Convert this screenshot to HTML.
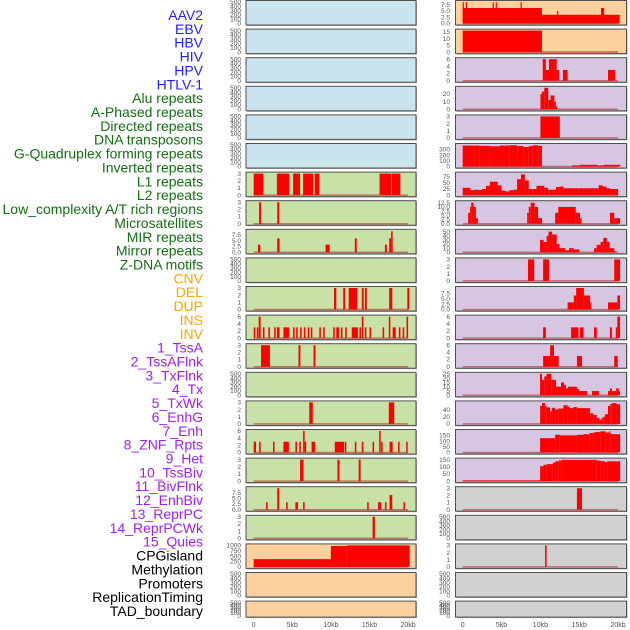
<!DOCTYPE html>
<html><head><meta charset="utf-8"><style>
html,body{margin:0;padding:0;background:#fff;}
svg{display:block;}
text{font-family:"Liberation Sans",sans-serif;}
</style></head><body>
<svg id="chart" width="630" height="630" viewBox="0 0 630 630" xmlns="http://www.w3.org/2000/svg"></svg>
<script>
// ---- track labels ----
const labelNames = ["AAV2","EBV","HBV","HIV","HPV","HTLV-1","Alu repeats","A-Phased repeats","Directed repeats","DNA transposons","G-Quadruplex forming repeats","Inverted repeats","L1 repeats","L2 repeats","Low_complexity A/T rich regions","Microsatellites","MIR repeats","Mirror repeats","Z-DNA motifs","CNV","DEL","DUP","INS","INV","1_TssA","2_TssAFlnk","3_TxFlnk","4_Tx","5_TxWk","6_EnhG","7_Enh","8_ZNF_Rpts","9_Het","10_TssBiv","11_BivFlnk","12_EnhBiv","13_ReprPC","14_ReprPCWk","15_Quies","CPGisland","Methylation","Promoters","ReplicationTiming","TAD_boundary"];
const labelGroups = [6,13,5,15,5];
const groupColors = ["#1f1fff","#137013","#ffa500","#a020f0","#000000"];
// ---- x axis ----
const xTickValues = [0,5,10,15,20];
const xTickLabels = ["0","5kb","10kb","15kb","20kb"];
// ---- y tick sets ----
const T500 = [0,100,200,300,400,500];
const T3 = [0,1,2,3];
const T6 = [0,2,4,6];
const T75 = [0,2.5,5,7.5];
const T15 = [0,5,10,15];
const T20 = [0,10,20];
const T300 = [0,100,200,300];
const T75b = [0,25,50,75];
const T125 = [0,2.5,5,7.5,10,12.5];
const T50 = [0,10,20,30,40,50];
const T25 = [0,5,10,15,20,25];
const T40 = [0,20,40];
const T150 = [0,50,100,150];
const T1000 = [0,250,500,750,1000];
// ---- left column series: [startKb, endKb, value] ----
const L6 = [[0,1.25,3],[3.0,4.6,3],[5.1,6.0,3],[6.4,7.7,3],[7.9,8.5,3],[16.3,17.8,3],[17.9,19.0,3]];
const L7 = [[0.7,0.95,3],[3.05,3.3,3]];
const L8 = [[0.55,0.85,3.3],[3.05,3.35,6],[9.3,9.85,3.3],[13.1,13.35,6],[17.0,17.25,3.3],[17.55,17.8,6],[17.8,18.0,9]];
const L10 = [[10.4,10.7,3],[11.6,11.85,3],[12.3,13.4,3],[14.0,14.25,3],[14.4,14.65,3],[17.55,17.95,3],[19.9,20.15,3]];
const L11 = [[0,0.2,3],[0.4,0.6,3],[0.65,0.9,6],[1.2,1.4,3],[1.9,2.1,3],[2.65,2.85,3],[3.0,3.35,3],[3.85,4.6,3],[5.1,5.3,3],[5.5,5.7,3],[6.0,6.2,3],[6.5,6.7,3],[7.0,7.2,3],[7.4,7.6,3],[8.5,8.7,3],[9.0,9.2,3],[10.3,10.5,3],[10.7,11.05,3],[11.3,11.5,3],[11.85,12.05,3],[12.7,13.5,3],[13.7,13.9,3],[14.0,14.2,6],[14.4,14.6,3],[15.0,15.2,3],[16.7,16.9,3],[17.5,17.7,6],[18.0,18.4,3],[18.8,19.0,3],[19.3,19.5,3],[19.8,20.0,6]];
const L12 = [[0.95,2.1,3],[5.8,6.05,3],[7.75,8.0,3]];
const L14 = [[7.2,7.65,3],[17.5,18.2,3]];
const L15 = [[0,0.3,3],[0.7,0.9,3],[2.5,2.7,3],[3.85,4.55,3],[5.4,5.6,3],[5.9,6.1,3],[6.4,6.6,6],[6.6,6.8,3],[7.5,7.95,3],[10.5,11.7,3],[11.8,12.0,3],[13.1,13.3,3],[14.0,14.2,3],[15.4,15.6,3],[16.25,16.45,6],[16.5,16.7,3],[17.6,18.0,3],[18.7,18.9,3],[19.75,19.95,3]];
const L16 = [[6.0,6.45,3],[10.85,11.1,3],[13.6,13.85,3]];
const L17 = [[1.6,1.8,3.3],[3.05,3.3,9.5],[4.2,4.4,3.3],[5.4,5.75,3.3],[6.4,6.6,3.3],[14.7,14.9,3.3],[16.1,16.5,3.3],[17.0,17.2,3.3],[17.6,17.95,6.5],[19.4,19.6,3.3]];
const L18 = [[15.4,15.7,3]];
const L19 = [[0,10,360],[10,12,970],[12,20.2,1000]];
// ---- right column series ----
const R0 = [[0,10.2,6.2],[10.2,20.2,3.5],[0,0.15,8.5],[0.4,0.55,8.5],[3.85,4.0,8.5],[4.25,4.4,8.5],[7.45,7.6,8.5],[12.15,12.3,5],[17.8,18.2,6.2]];
const R1 = [[0,10.2,16],[10.2,20,0.3]];
const R2 = [[10.3,10.7,6],[10.7,11.1,3],[11.1,12.1,6],[12.1,12.4,3],[12.9,13.5,3],[18.7,19.6,3]];
const R3 = [[10.0,10.2,20],[10.2,10.5,23],[10.5,11.0,28],[11.0,11.3,12],[11.3,11.8,18],[11.8,12.0,10],[12.0,12.1,4]];
const R4 = [[10.0,12.5,3]];
const R5 = [[0,2.2,370],[2.2,3.5,365],[3.5,4.8,358],[4.8,6.0,370],[6.0,7.0,375],[7.0,7.8,362],[7.8,8.5,345],[8.5,9.0,360],[9.0,9.7,375],[9.7,10.2,365],[14.1,15.1,20],[15.1,17.3,30],[17.3,18.2,20],[18.2,20.3,30]];
const R6bins = [30,30,20,22,21,25,38,55,55,40,18,15,20,22,65,85,60,25,25,38,38,30,22,22,33,35,28,28,28,28,28,28,28,28,28,40,35,28,25,25];
const R6binWidth = 0.5;
const R7 = [[0.7,0.95,6.5],[0.95,1.1,10],[1.1,1.4,12.5],[1.4,1.7,10],[1.7,1.95,3.3],[8.3,8.5,6.5],[8.5,8.75,10],[8.75,9.25,12.5],[9.25,9.7,10],[9.7,10.2,3.3],[11.9,12.3,6.5],[12.3,14.55,10],[14.55,15.1,6.5],[15.1,15.3,3.3],[18.95,19.5,6.5],[19.5,20.25,3.3]];
const R8 = [[9.95,10.4,30],[10.4,10.8,25],[10.8,11.05,40],[11.05,11.5,50],[11.5,12.1,43],[12.1,12.45,20],[12.45,13.2,10],[13.2,13.7,5],[13.7,14.25,10],[14.25,15.0,7],[16.9,17.25,10],[17.25,17.75,18],[17.75,18.1,25],[18.1,18.55,35],[18.55,18.9,25],[18.9,19.5,10],[19.5,19.6,3]];
const R9 = [[8.4,9.2,3],[10.35,11.1,3],[19.5,20.25,3]];
const R10 = [[13.5,14.3,3.3],[14.3,14.6,6.5],[14.6,15.6,10],[15.6,16.4,6.5],[16.4,16.5,3.3],[18.7,19.9,3.3],[19.9,20.25,6.5]];
const R11 = [[10.35,10.7,3],[13.95,14.9,3],[15.1,15.55,3],[16.9,17.25,3],[18.95,19.2,3],[19.7,19.9,3],[19.9,20.25,6]];
const R12 = [[10.35,11.25,3],[11.25,11.75,6],[11.75,12.35,3],[14.7,15.35,3],[19.5,19.95,3]];
const R13 = [[9.95,10.2,25],[10.2,10.5,18],[10.5,10.8,22],[10.8,11.4,25],[11.4,12.0,18],[12.0,12.65,10],[12.65,13.05,15],[13.05,13.3,12],[13.3,13.55,8],[13.55,14.7,10],[14.7,15.0,7],[15.0,16.0,5],[16.65,17.55,5],[18.7,18.95,5],[18.95,19.2,8],[19.2,19.75,5],[19.75,20.1,8],[20.1,20.25,5]];
const R14 = [[9.96,10.2,50],[10.2,10.6,58],[10.6,10.8,50],[10.8,11.25,46],[11.25,11.5,35],[11.5,11.9,45],[11.9,12.3,40],[12.3,12.96,43],[12.96,13.5,52],[13.5,13.8,48],[13.8,14.25,44],[14.25,14.7,47],[14.7,16.4,44],[16.4,16.8,30],[16.8,17.25,25],[17.25,17.6,17],[17.6,17.9,12],[17.9,18.1,17],[18.1,18.3,20],[18.3,18.7,27],[18.7,18.97,50],[18.97,19.2,55],[19.2,19.8,58],[19.8,20.26,55]];
const R15 = [[9.96,11.9,125],[11.9,12.5,155],[12.5,14.7,150],[14.7,15.55,155],[15.55,16.3,160],[16.3,16.8,170],[16.8,17.1,175],[17.1,17.7,180],[17.7,18.4,185],[18.4,18.85,175],[18.85,18.97,185],[18.97,19.2,165],[19.2,20.26,160]];
const R16 = [[0,9.96,5],[9.96,10.4,105],[10.4,10.8,115],[10.8,11.6,120],[11.6,11.9,130],[11.9,12.3,140],[12.3,12.75,145],[12.75,17.25,150],[17.25,17.75,145],[17.75,18.3,140],[18.3,18.6,135],[18.6,20.26,140]];
const R17 = [[14.7,15.35,3]];
const R19 = [[10.6,10.8,3]];

// ---- layout ----
const BG = {blue:"#c9e4ec",green:"#c8e1a6",orange:"#fed09d",purple:"#d6c6e2",gray:"#d1d1d1"};
const panels = [
 {c:0,r:0,bg:"blue",t:T500,m:500,s:null,n:"aav2"},
 {c:0,r:1,bg:"blue",t:T500,m:500,s:null,n:"hbv"},
 {c:0,r:2,bg:"blue",t:T500,m:500,s:null,n:"hpv"},
 {c:0,r:3,bg:"blue",t:T500,m:500,s:null,n:"alu"},
 {c:0,r:4,bg:"blue",t:T500,m:500,s:null,n:"directed"},
 {c:0,r:5,bg:"blue",t:T500,m:500,s:null,n:"g-quad"},
 {c:0,r:6,bg:"green",t:T3,m:3,s:L6,n:"l1"},
 {c:0,r:7,bg:"green",t:T3,m:3,s:L7,n:"low-complexity"},
 {c:0,r:8,bg:"green",t:T75,m:9.2,s:L8,n:"mir"},
 {c:0,r:9,bg:"green",t:T500,m:500,s:null,n:"z-dna"},
 {c:0,r:10,bg:"green",t:T3,m:3,s:L10,n:"del"},
 {c:0,r:11,bg:"green",t:T6,m:6,s:L11,n:"ins"},
 {c:0,r:12,bg:"green",t:T3,m:3,s:L12,n:"tssa"},
 {c:0,r:13,bg:"green",t:T500,m:500,s:null,n:"txflnk"},
 {c:0,r:14,bg:"green",t:T3,m:3,s:L14,n:"txwk"},
 {c:0,r:15,bg:"green",t:T6,m:6,s:L15,n:"enh"},
 {c:0,r:16,bg:"green",t:T3,m:3,s:L16,n:"het"},
 {c:0,r:17,bg:"green",t:T75,m:9.5,s:L17,n:"bivflnk"},
 {c:0,r:18,bg:"green",t:T3,m:3,s:L18,n:"reprpc"},
 {c:0,r:19,bg:"orange",t:T1000,m:1000,s:L19,n:"cpgisland"},
 {c:0,r:20,bg:"orange",t:T500,m:500,s:null,n:"promoters"},
 {c:0,r:21,bg:"orange",t:T500,m:500,s:null,n:"tad"},
 {c:1,r:0,bg:"orange",t:T75,m:8.6,s:R0,n:"ebv"},
 {c:1,r:1,bg:"orange",t:T15,m:16,s:R1,n:"hiv"},
 {c:1,r:2,bg:"purple",t:T6,m:6,s:R2,n:"htlv"},
 {c:1,r:3,bg:"purple",t:T20,m:28,s:R3,n:"a-phased"},
 {c:1,r:4,bg:"purple",t:T3,m:3,s:R4,n:"dna-transposons"},
 {c:1,r:5,bg:"purple",t:T300,m:380,s:R5,n:"inverted"},
 {c:1,r:6,bg:"purple",t:T75b,m:88,s:"bins",n:"l2"},
 {c:1,r:7,bg:"purple",t:T125,m:12.8,s:R7,n:"microsatellites"},
 {c:1,r:8,bg:"purple",t:T50,m:52,s:R8,n:"mirror"},
 {c:1,r:9,bg:"purple",t:T3,m:3,s:R9,n:"cnv"},
 {c:1,r:10,bg:"purple",t:T75,m:10,s:R10,n:"dup"},
 {c:1,r:11,bg:"purple",t:T6,m:6,s:R11,n:"inv"},
 {c:1,r:12,bg:"purple",t:T6,m:6,s:R12,n:"tssaflnk"},
 {c:1,r:13,bg:"purple",t:T25,m:25,s:R13,n:"tx"},
 {c:1,r:14,bg:"purple",t:T40,m:60,s:R14,n:"enhg"},
 {c:1,r:15,bg:"purple",t:T150,m:188,s:R15,n:"znf-rpts"},
 {c:1,r:16,bg:"purple",t:T150,m:152,s:R16,n:"tssbiv"},
 {c:1,r:17,bg:"gray",t:T3,m:3,s:R17,n:"enhbiv"},
 {c:1,r:18,bg:"gray",t:T500,m:500,s:null,n:"reprpcwk"},
 {c:1,r:19,bg:"gray",t:T3,m:3,s:R19,n:"methylation"},
 {c:1,r:20,bg:"gray",t:T500,m:500,s:null,n:"replication-timing"},
 {c:1,r:21,bg:"gray",t:T500,m:500,s:null,n:"tad-right"}
];

const NS="http://www.w3.org/2000/svg";
const svg=document.getElementById("chart");
function mk(tag,attrs,parent){const e=document.createElementNS(NS,tag);for(const k in attrs)e.setAttribute(k,attrs[k]);(parent||svg).appendChild(e);return e;}
const COLX=[{x0:246,x1:416,z:253.7,k:7.72,tx:241},{x0:455.5,x1:626.5,z:462.7,k:7.77,tx:450}];
function xScale(c,kb){return COLX[c].z+kb*COLX[c].k;}
function rowTop(r){return 0.5+28.6*r;}
function rowH(r){return r===21?16:24.5;}
function yScale(r,m,v){const t=rowTop(r),h=rowH(r);return t+1.5+(1-v/m)*(h-3);}

let li=0;
labelGroups.forEach((cnt,g)=>{for(let j=0;j<cnt;j++){
  const t=mk("text",{x:203,y:15+13.86*li+5,"text-anchor":"end","font-size":"14",fill:groupColors[g]});
  
  
  t.textContent=labelNames[li];li++;}});

panels.forEach(p=>{
  const C=COLX[p.c],top=rowTop(p.r),h=rowH(p.r);
  const g=mk("g",{});
  
  
  mk("rect",{x:C.x0+1,y:top+1,width:C.x1-C.x0,height:h,fill:"#a8a8a8"},g);
  const bg=mk("rect",{x:C.x0,y:top,width:C.x1-C.x0,height:h,fill:BG[p.bg],stroke:"#505050","stroke-width":"1"},g);
  
  
  const dec=p.t.some(v=>v%1!==0);
  p.t.forEach(v=>{
    const tt=mk("text",{x:C.tx,y:yScale(p.r,p.m,v)+2.2,"text-anchor":"end","font-size":"6.5",fill:"#555"},g);
    
    
    tt.textContent=dec?v.toFixed(1):String(v);
  });
  if(p.s){
    const base=mk("line",{x1:xScale(p.c,0),x2:xScale(p.c,20),y1:top+h-1.5,y2:top+h-1.5,stroke:"#b02020","stroke-opacity":"0.55","stroke-width":"1.5"},g);
    
    
    let segs=p.s;
    if(p.s==="bins"){segs=R6bins.map((v,i)=>[i*R6binWidth,(i+1)*R6binWidth,v]);}
    segs.forEach(s=>{
      const x0=xScale(p.c,s[0]),x1=xScale(p.c,s[1]);
      const y=yScale(p.r,p.m,s[2]),yb=yScale(p.r,p.m,0);
      const b=mk("rect",{x:x0,y:y,width:Math.max(1.2,x1-x0),height:Math.max(0,yb-y),fill:"#ff0000"},g);
      
      
    });
  }
});
[0,1].forEach(c=>{xTickValues.forEach((v,i)=>{
  const t=mk("text",{x:xScale(c,v),y:627,"text-anchor":"middle","font-size":"7",fill:"#555"});
  
  
  t.textContent=xTickLabels[i];});});
</script>
</body></html>
